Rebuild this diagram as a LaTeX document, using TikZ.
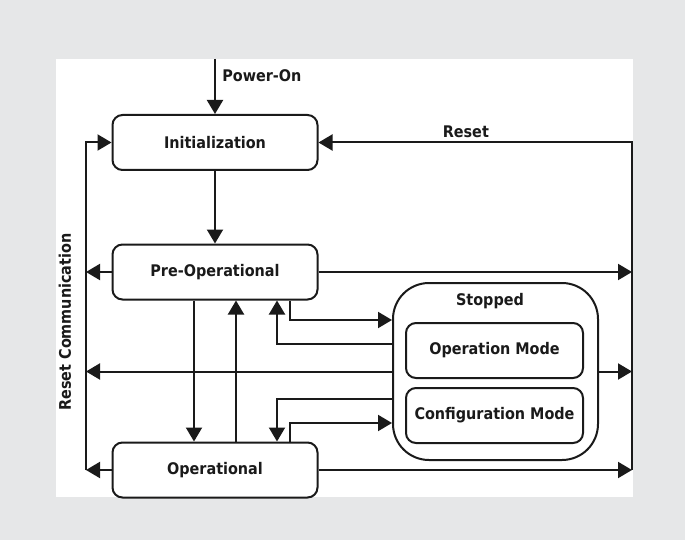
\documentclass[tikz,border=0pt]{standalone}
\usepackage{fontspec}
\setmainfont{DejaVu Sans Condensed}
\usetikzlibrary{arrows.meta}
\definecolor{panelgrey}{HTML}{E6E7E8}
\definecolor{ink}{HTML}{1A1A1A}
\begin{document}
\begin{tikzpicture}[x=1pt,y=-1pt,line width=2pt,draw=ink,
  every node/.style={font=\fontsize{16}{19}\selectfont\bfseries,text=ink},
  state/.style={draw,rounded corners=10pt,minimum width=205pt,minimum height=55pt,inner sep=0pt},
  mode/.style={draw,rounded corners=10pt,minimum width=177pt,minimum height=55pt,inner sep=0pt},
  tri/.style={-{Triangle[length=14pt,width=16pt]}}]
\fill[panelgrey] (0,0) rectangle (685,540);
\fill[white] (56,59) rectangle (633,497);
\useasboundingbox (0,0) rectangle (685,540);
% states
\node[state] (init) at (215,142.5) {Initialization};
\node[state] (preop) at (215,272) {Pre-Operational};
\node[state] (op) at (215,470) {Operational};
\node[draw,rounded corners=36pt,minimum width=205pt,minimum height=177pt] (stopped) at (495.5,371.5) {};
\node (stoplbl) at (490,301) {Stopped};
\node[mode] (opmode) at (494.5,350.5) {Operation Mode};
\node[mode] (cfgmode) at (494.5,415.5) {Configuration Mode};
% helper points
\coordinate (pwr) at (215,59);
\coordinate (lft) at (86,0);
\coordinate (rgt) at (632,0);
\coordinate (down) at (194,0);
\coordinate (up) at (236,0);
\coordinate (back) at (277,0);
\coordinate (out) at (290,0);
\coordinate (r1) at (0,320);
\coordinate (r2) at (0,344);
\coordinate (r4) at (0,399);
\coordinate (r5) at (0,423);
% power-on and reset
\draw[tri] (pwr) -- node[right,pos=0.3,xshift=3pt]{Power-On} (init.north);
\draw[tri] (init.south) -- (preop.north);
\draw[tri] (op.east -| rgt) -- (init.east -| rgt) -- node[above,pos=0.53]{Reset} (init.east);
\draw[tri] (preop.east) -- (preop.east -| rgt);
\draw[tri] (stopped.east) -- (stopped.east -| rgt);
\draw[tri] (op.east) -- (op.east -| rgt);
% reset communication
\draw[tri] (op.west -| lft) -- (init.west -| lft) -- (init.west);
\draw[tri] (preop.west) -- (preop.west -| lft);
\draw[tri] (stopped.west) -- (stopped.west -| lft);
\draw[tri] (op.west) -- (op.west -| lft);
\node[rotate=90] (rc) at (65,322) {Reset Communication};
% pre-operational <-> operational
\draw[tri] (preop.south -| down) -- (op.north -| down);
\draw[tri] (op.north -| up) -- (preop.south -| up);
% to and from stopped
\draw[tri] (preop.south -| out) |- (stopped.west |- r1);
\draw[tri] (stopped.west |- r2) -| (preop.south -| back);
\draw[tri] (stopped.west |- r4) -| (op.north -| back);
\draw[tri] (op.north -| out) |- (stopped.west |- r5);
\end{tikzpicture}
\end{document}
